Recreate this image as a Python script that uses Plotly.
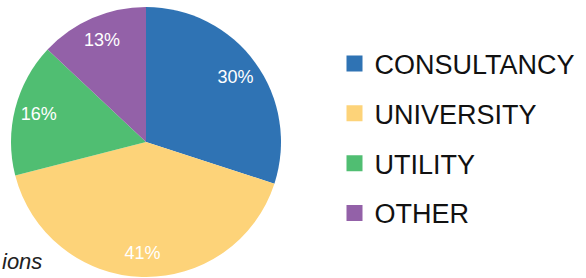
import plotly.graph_objects as go

categories = ["CONSULTANCY", "UNIVERSITY", "UTILITY", "OTHER"]
shares = [30, 41, 16, 13]
colors = ["#2F73B4", "#FDD379", "#50BE72", "#9361A8"]

W, H = 586, 278
FONT = "Liberation Sans, Arial, Helvetica, sans-serif"
pie_domain = dict(x=[11 / W, 281 / W], y=[1 - 277 / H, 1 - 7 / H])

fig = go.Figure()

# filled slices
fig.add_trace(go.Pie(
    labels=categories, values=shares, sort=False,
    direction="clockwise", rotation=0,
    marker=dict(colors=colors, line=dict(width=0)),
    textinfo="none", showlegend=False, domain=pie_domain,
    hoverinfo="label+percent",
))

# same slices, transparent, used only to place the percentage labels toward the rim
fig.add_trace(go.Pie(
    labels=categories, values=shares, sort=False,
    direction="clockwise", rotation=0, hole=0.64,
    marker=dict(colors=["rgba(0,0,0,0)"] * len(categories), line=dict(width=0)),
    texttemplate="%{percent:.0%}", textposition="inside",
    insidetextorientation="horizontal",
    textfont=dict(family=FONT, size=18, color="white"),
    showlegend=False, domain=pie_domain, hoverinfo="skip",
))

# legend entries (square swatches) built from the same category / colour lists
for cat, col in zip(categories, colors):
    fig.add_trace(go.Scatter(
        x=[None], y=[None], mode="markers", name=cat, legendgroup=cat,
        marker=dict(symbol="square", size=16, color=col),
        showlegend=True, hoverinfo="skip",
    ))

fig.update_layout(
    width=W, height=H,
    margin=dict(l=0, r=0, t=0, b=0),
    paper_bgcolor="white", plot_bgcolor="white",
    xaxis=dict(visible=False), yaxis=dict(visible=False),
    font=dict(family=FONT, color="#111111"),
    legend=dict(
        x=334.5 / W, xanchor="left", y=1 - 39.5 / H, yanchor="top",
        font=dict(family=FONT, size=27, color="#111111"),
        tracegroupgap=11.7, bgcolor="rgba(0,0,0,0)",
        itemclick=False, itemdoubleclick=False,
    ),
    annotations=[dict(
        text="<i>ions</i>", x=0, xref="paper", xanchor="left",
        y=1 - 261 / H, yref="paper", yanchor="middle", showarrow=False,
        font=dict(family=FONT, size=22, color="#222222"),
    )],
)

fig.write_html(
    "out.html",
    config={"displayModeBar": False},
    post_script="document.body.style.margin='0';document.body.style.overflow='hidden';",
)
